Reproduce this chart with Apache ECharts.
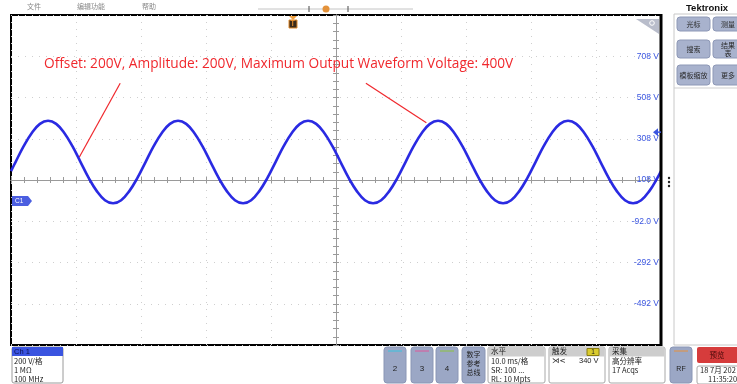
<!DOCTYPE html>
<html><head><meta charset="utf-8">
<script src="https://cdn.jsdelivr.net/npm/echarts@6/dist/echarts.min.js"></script>
<style>html,body{margin:0;padding:0;background:#fff;overflow:hidden}#c{width:737px;height:384px}</style>
</head><body><div id="c"></div>
<script>
// ---- data ----
const timeMs = [-50, -49.3, -48.05, -46.8, -45.55, -44.3, -43.05, -41.8, -40.55, -39.3, -38.05, -36.8, -35.55, -34.3, -33.05, -31.8, -30.55, -29.3,
  -28.05, -26.8, -25.55, -24.3, -23.05, -21.8, -20.55, -19.3, -18.05, -16.8, -15.55, -14.3, -13.05, -11.8, -10.55, -9.3,
  -8.05, -6.8, -5.55, -4.3, -3.05, -1.8, -0.55, 0.7, 1.95, 3.2, 4.45, 5.7, 6.95, 8.2, 9.45, 10.7,
  11.95, 13.2, 14.45, 15.7, 16.95, 18.2, 19.45, 20.7, 21.95, 23.2, 24.45, 25.7, 26.95, 28.2, 29.45, 30.7,
  31.95, 33.2, 34.45, 35.7, 36.95, 38.2, 39.45, 40.7, 41.95, 43.2, 44.45, 45.7, 46.95, 48.2, 49.45, 50];
const voltV = [151, 195, 272, 336, 380, 395, 380, 336, 272, 195, 118, 54, 10, -5, 10, 54, 118, 195,
  272, 336, 380, 395, 380, 336, 272, 195, 118, 54, 10, -5, 10, 54, 118, 195,
  272, 336, 380, 395, 380, 336, 272, 195, 118, 54, 10, -5, 10, 54, 118, 195,
  272, 336, 380, 395, 380, 336, 272, 195, 118, 54, 10, -5, 10, 54, 118, 195,
  272, 336, 380, 395, 380, 336, 272, 195, 118, 54, 10, -5, 10, 54, 118, 151];
const yTickValues = [-492, -292, -92, 108, 308, 508, 708];
const yTickLabels = ['-492 V', '-292 V', '-92.0 V', '108 V', '308 V', '508 V', '708 V'];
const annotationText = 'Offset: 200V, Amplitude: 200V, Maximum Output Waveform Voltage: 400V';
const pointerStarts = [[-33.2, 577], [4.6, 577]];
const pointerEnds = [[-39.5, 218], [13.9, 386]];
const triggerLevelV = 340;
const ch1Info = ['200 V/格', '1 MΩ', '100 MHz'];
const horizInfo = ['10.0 ms/格', 'SR: 100 ...', 'RL: 10 Mpts'];
const acqInfo = ['高分辨率', '17 Acqs'];

const chart = echarts.init(document.getElementById('c'), null, {renderer: 'canvas'});
const CJK = '"Noto Sans CJK SC", "Noto Sans", sans-serif';
const gray = '#9a9a9a';
const dotted = {show: true, lineStyle: {color: '#cfcfcf', type: [1, 6], width: 1}};

function centerAxisX(pos) {
  return {type: 'value', min: -50, max: 50, interval: 10, position: pos,
    axisLine: {show: true, onZero: true, onZeroAxisIndex: 1, lineStyle: {color: gray, width: 1}},
    axisTick: {show: true, length: 3, lineStyle: {color: gray}},
    minorTick: {show: true, splitNumber: 5, length: 3, lineStyle: {color: gray}},
    axisLabel: {show: false}, splitLine: {show: false}};
}
function centerAxisY(pos) {
  return {type: 'value', min: -4, max: 4, interval: 1, position: pos,
    axisLine: {show: true, onZero: true, onZeroAxisIndex: 0, lineStyle: {color: gray, width: 1}},
    axisTick: {show: true, length: 3, lineStyle: {color: gray}},
    minorTick: {show: true, splitNumber: 5, length: 3, lineStyle: {color: gray}},
    axisLabel: {show: false}, splitLine: {show: false}};
}
const xa0 = centerAxisX('bottom'); xa0.splitLine = dotted;
const xa1 = centerAxisX('top');

const option = {
  animation: false,
  backgroundColor: '#fff',
  grid: {left: 11, top: 15, right: 76, bottom: 39, show: true, borderColor: '#000', borderWidth: 2, backgroundColor: '#fff'},
  xAxis: [xa0, xa1],
  yAxis: [
    {type: 'value', min: -692, max: 908, interval: 200, position: 'right',
      axisLine: {show: false, onZero: false}, axisTick: {show: false},
      splitLine: dotted,
      axisLabel: {inside: true, margin: 2, showMinLabel: false, showMaxLabel: false,
        color: '#3b56e0', fontSize: 8.5, fontFamily: 'Liberation Sans',
        formatter: v => { const i = yTickValues.indexOf(Math.round(v)); return i >= 0 ? yTickLabels[i] : ''; }}},
    centerAxisY('left'),
    centerAxisY('right')
  ],
  series: [{
    type: 'line', xAxisIndex: 0, yAxisIndex: 0, smooth: 0.4, showSymbol: false, z: 5,
    data: timeMs.map((t, i) => [t, voltV[i]]),
    lineStyle: {color: '#2a2ae2', width: 2.6},
    markLine: {silent: true, symbol: ['none', 'none'], label: {show: false},
      lineStyle: {color: '#f0282d', width: 1.2, type: 'solid'},
      data: pointerStarts.map((s, i) => [{coord: s}, {coord: pointerEnds[i]}])}
  }]
};
chart.setOption(option);

// ---- instrument UI decorations ----
const trigY = chart.convertToPixel({yAxisIndex: 0}, triggerLevelV);
function txt(x, y, s, size, fill, extra) {
  return {type: 'text', x: x, y: y, z: 20, style: Object.assign({text: s, fontSize: size, fill: fill, fontFamily: CJK}, extra || {})};
}
function rect(x, y, w, h, fill, stroke, r) {
  return {type: 'rect', z: 15, shape: {x: x, y: y, width: w, height: h, r: r || 0}, style: {fill: fill, stroke: stroke || null, lineWidth: 1}};
}
function line(x1, y1, x2, y2, stroke, w) {
  return {type: 'line', z: 16, shape: {x1: x1, y1: y1, x2: x2, y2: y2}, style: {stroke: stroke, lineWidth: w || 1}};
}
const g = [];
// header
g.push(txt(27, 3, '文件', 7, '#888'));
g.push(txt(77, 3, '编辑功能', 7, '#888'));
g.push(txt(142, 3, '帮助', 7, '#888'));
// timeline
g.push(line(258, 9, 413, 9, '#c4c4c4', 1));
g.push(line(309, 6, 309, 12, '#666', 1.2));
g.push(line(348, 6, 348, 12, '#666', 1.2));
g.push({type: 'circle', z: 17, shape: {cx: 326, cy: 9, r: 3.5}, style: {fill: '#e4923a'}});
g.push(rect(325, 8, 2, 3, '#3a2a1a'));
// trigger position marker
g.push({type: 'polygon', z: 17, shape: {points: [[289, 16], [297, 16], [293, 20]]}, style: {fill: '#f0a040'}});
g.push(rect(289, 20, 8, 8, '#3a2a1a', '#e08a2c'));
g.push(txt(290.5, 20, 'T', 7, '#e08a2c', {fontWeight: 'bold'}));
// magnifier corner
g.push({type: 'polygon', z: 17, shape: {points: [[636, 19], [659, 19], [659, 34]]}, style: {fill: '#b9bdcb'}});
g.push({type: 'circle', z: 18, shape: {cx: 652, cy: 23, r: 2.3}, style: {fill: null, stroke: '#fff', lineWidth: 1}});
g.push(line(650, 25, 647, 28, '#fff', 1));
// thick right border
g.push(line(661, 14, 661, 346, '#000', 3));
// vertical dots
[178, 182, 186].forEach(y => g.push({type: 'circle', z: 17, shape: {cx: 669, cy: y, r: 1.2}, style: {fill: '#222'}}));
// right panel
g.push(rect(674, 14, 70, 331, '#fff', '#c8c8c8'));
g.push(line(674, 88, 737, 88, '#cfcfcf', 1));
g.push(txt(686, 3, 'Tektronix', 9.5, '#111', {fontWeight: 'bold', fontFamily: 'Liberation Sans'}));
[[677, 17, 33, 14, '光标'], [713, 17, 30, 14, '测量'], [677, 40, 33, 18, '搜索'], [713, 40, 30, 18, '结果\n表'], [677, 65, 33, 20, '模板缩放'], [713, 65, 30, 20, '更多']].forEach(b => {
  g.push(rect(b[0], b[1], b[2], b[3], '#a8b2cd', '#8d98b6', 3));
  g.push(txt(b[0] + b[2] / 2, b[1] + b[3] / 2, b[4], 7, '#2a2a2a', {align: 'center', verticalAlign: 'middle', lineHeight: 8}));
});
// trigger level arrow
g.push({type: 'polygon', z: 18, shape: {points: [[653, trigY], [658, trigY - 4], [658, trigY + 4]]}, style: {fill: '#3b56e0'}});
g.push(line(656, trigY, 661, trigY, '#3b56e0', 1.5));
// C1 badge
g.push({type: 'polygon', z: 18, shape: {points: [[12, 196], [28, 196], [32, 201], [28, 206], [12, 206]]}, style: {fill: '#4b5ee0'}});
g.push(txt(15, 201, 'C1', 6.5, '#fff', {verticalAlign: 'middle', fontFamily: 'Liberation Sans'}));
// annotation text
g.push(txt(44, 57, annotationText, 13.7, '#f0282d', {fontFamily: '"Open Sans", sans-serif'}));
// bottom: Ch1 box
g.push(rect(12, 347, 51, 36, '#fff', '#9a9a9a', 2));
g.push(rect(12, 347, 51, 9, '#3a54e0'));
g.push(txt(14, 347.5, 'Ch 1', 7.5, '#0c1050', {fontFamily: 'Liberation Sans'}));
ch1Info.forEach((s, i) => g.push(txt(14, 357 + i * 9, s, 7.5, '#222')));
// channel buttons
[[384, '2', '#38c4e0'], [411, '3', '#e0569a'], [436, '4', '#8cc43c']].forEach(b => {
  g.push(rect(b[0], 347, 22, 36, '#9ba7c5', '#8a96b5', 3));
  g.push(line(b[0] + 4, 351, b[0] + 18, 351, b[2], 1));
  g.push(txt(b[0] + 11, 369, b[1], 8, '#222', {align: 'center', verticalAlign: 'middle', fontFamily: 'Liberation Sans'}));
});
g.push(rect(462, 347, 23, 36, '#9ba7c5', '#8a96b5', 3));
['数字', '参考', '总线'].forEach((s, i) => g.push(txt(473.5, 354 + i * 9, s, 7, '#222', {align: 'center', verticalAlign: 'middle'})));
// info boxes
function infoBox(x, w, head, lines) {
  g.push(rect(x, 347, w, 36, '#fff', '#a8a8a8', 2));
  g.push(rect(x + 0.5, 347.5, w - 1, 9, '#cdcdcd'));
  g.push(txt(x + 3, 347.5, head, 7.5, '#222'));
  lines.forEach((s, i) => g.push(txt(x + 3, 357 + i * 9, s, 7.5, '#222')));
}
infoBox(488, 57, '水平', horizInfo);
infoBox(549, 56, '触发', []);
g.push(rect(587, 348.5, 12, 7, '#d9cb2e', '#8a7d10'));
g.push(txt(593, 352, '1', 6.5, '#222', {align: 'center', verticalAlign: 'middle', fontFamily: 'Liberation Sans'}));
g.push(txt(552, 357, '⋊<', 7.5, '#222', {fontFamily: 'DejaVu Sans'}));
g.push(txt(579, 357, triggerLevelV + ' V', 7.5, '#222', {fontFamily: 'Liberation Sans'}));
infoBox(609, 56, '采集', acqInfo);
// RF
g.push(rect(670, 347, 22, 36, '#9ba7c5', '#8a96b5', 3));
g.push(line(674, 351, 688, 351, '#e8903a', 1));
g.push(txt(681, 369, 'RF', 7, '#222', {align: 'center', verticalAlign: 'middle', fontFamily: 'Liberation Sans'}));
// preview + date
g.push(rect(697, 347, 45, 16, '#d63c3c', null, 2));
g.push(txt(717, 355, '预览', 7.5, '#4a0a0a', {align: 'center', verticalAlign: 'middle'}));
g.push(rect(697, 366, 45, 18, '#fff', '#a8a8a8', 2));
g.push(txt(700, 366.5, '18 7月 202', 7.5, '#222'));
g.push(txt(708, 375, '11:35:20', 7.5, '#222'));

chart.setOption({graphic: g});
</script>
</body></html>
